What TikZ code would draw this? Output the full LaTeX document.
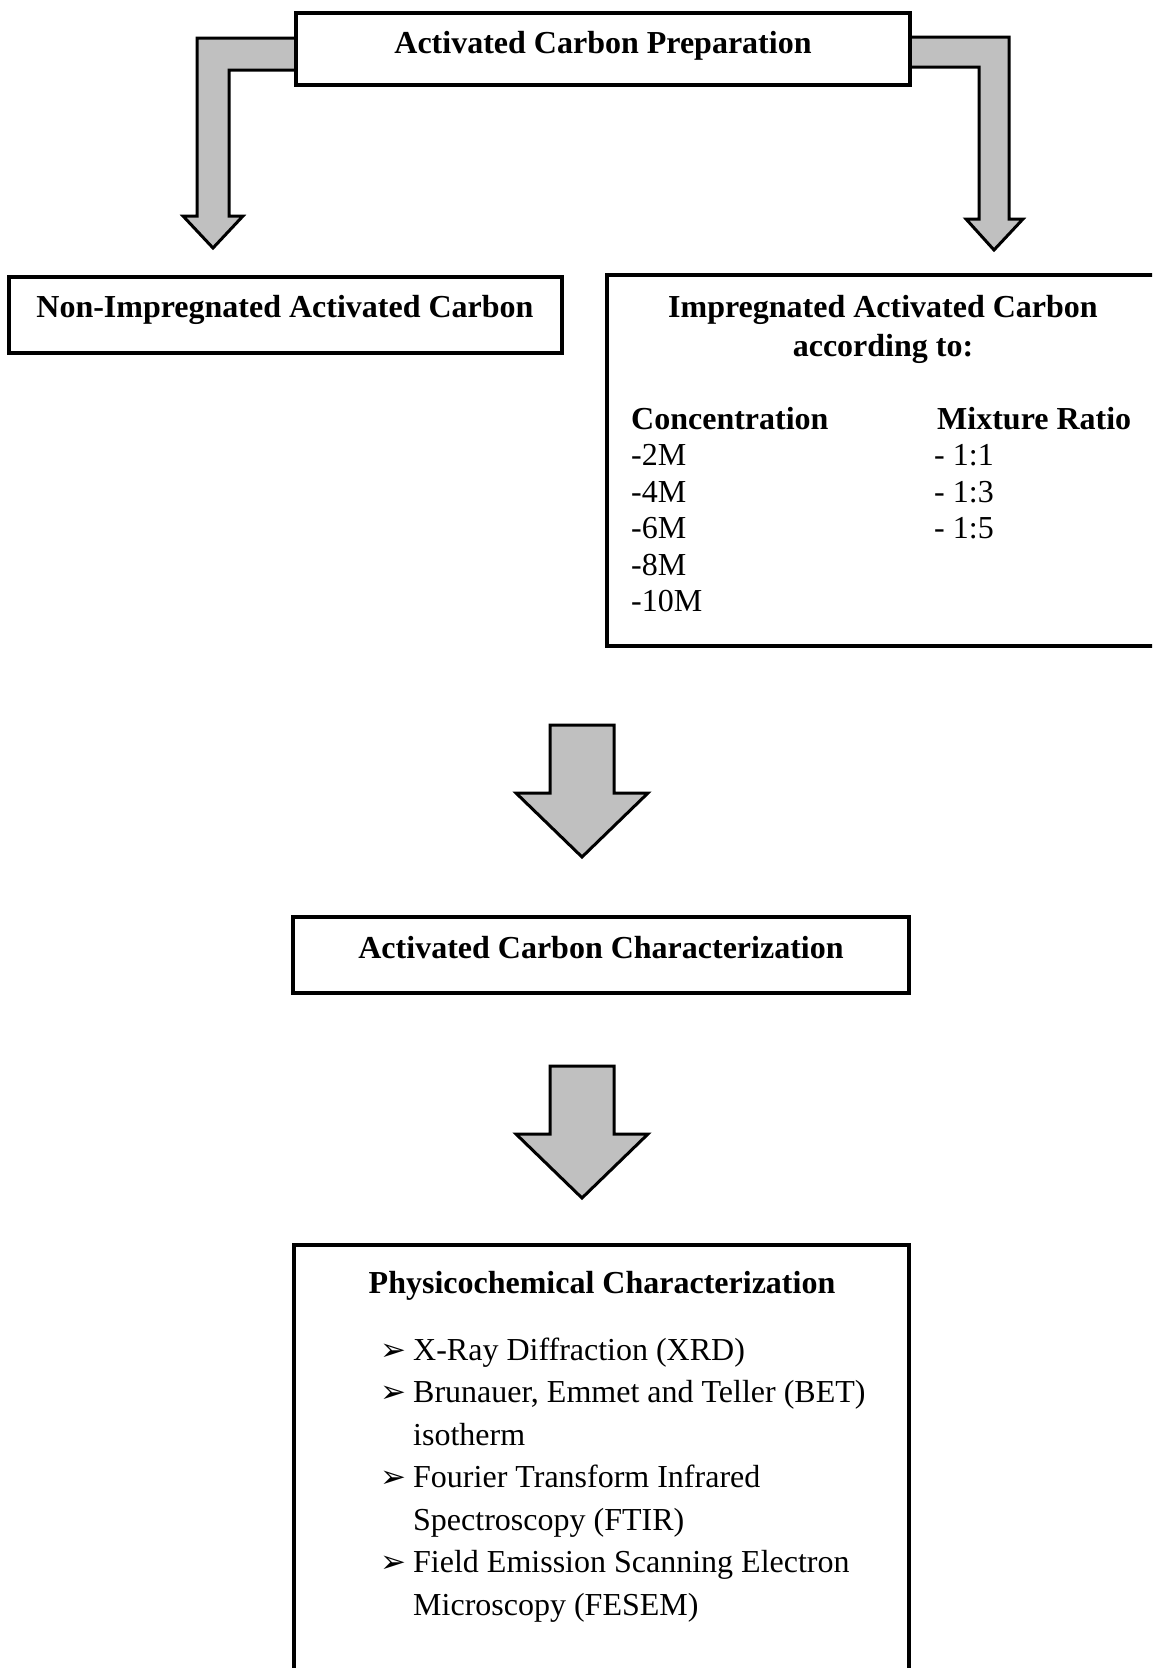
\documentclass[tikz,border=0pt]{standalone}
\usepackage{fontspec}
\setmainfont{Liberation Serif}
\newfontfamily\symfont{DejaVu Sans}
\definecolor{arrowgray}{HTML}{C0C0C0}
\begin{document}
\begin{tikzpicture}[x=1pt,y=-1pt,
  box/.style={draw, line width=3.5pt, fill=white, inner sep=0pt, rectangle},
  arrowshape/.style={draw, line width=3pt, fill=arrowgray, line join=miter},
  tb/.style={font=\fontsize{32}{36}\selectfont\bfseries, anchor=base, inner sep=0pt},
  tr/.style={font=\fontsize{32}{36}\selectfont, anchor=base west, inner sep=0pt},
  bul/.style={font=\symfont\fontsize{31}{34}\selectfont, anchor=base west, inner sep=0pt}]
\useasboundingbox (0,0) rectangle (1152,1668);
\clip (0,0) rectangle (1152,1668);

% bent arrows from the top box
\path[arrowshape] (300,38) -- (197,38) -- (197,216) -- (183,216) -- (213,248)
  -- (243,216) -- (229,216) -- (229,70) -- (300,70);
\path[arrowshape] (905,37) -- (1009,37) -- (1009,219) -- (1023,219) -- (994,250)
  -- (966,219) -- (979,219) -- (979,67) -- (905,67);

% straight down arrows
\path[arrowshape] (550,725) -- (614,725) -- (614,793) -- (648,793) -- (582,857)
  -- (516,793) -- (550,793) -- cycle;
\path[arrowshape] (550,1066) -- (614,1066) -- (614,1134) -- (648,1134) -- (582,1198)
  -- (516,1134) -- (550,1134) -- cycle;

% boxes
\node[box, minimum width=614pt, minimum height=72pt] (prep) at (603,49) {};
\node[box, minimum width=553pt, minimum height=76pt] (nonimp) at (285.5,315) {};
\node[box, minimum width=563pt, minimum height=371pt] (imp) at (888.5,460.5) {};
\node[box, minimum width=616pt, minimum height=76pt] (char) at (601,955) {};
\node[box, minimum width=615pt, minimum height=445pt] (phys) at (601.5,1467.5) {};

% texts
\node[tb] (tprep) at (603,53) {Activated Carbon Preparation};
\node[tb] (tnon) at (285,317) {Non-Impregnated Activated Carbon};
\node[tb] (timp1) at (883,317) {Impregnated Activated Carbon};
\node[tb] (timp2) at (883,356) {according to:};
\node[tb, anchor=base west] (tconc) at (631,429) {Concentration};
\node[tb, anchor=base west] (tmix) at (937,429) {Mixture Ratio};
\node[tr] (c1) at (631,465.5) {-2M};
\node[tr] (c2) at (631,502) {-4M};
\node[tr] (c3) at (631,538.5) {-6M};
\node[tr] (c4) at (631,575) {-8M};
\node[tr] (c5) at (631,611.5) {-10M};
\node[tr] (m1) at (934,465.5) {- 1:1};
\node[tr] (m2) at (934,502) {- 1:3};
\node[tr] (m3) at (934,538.5) {- 1:5};
\node[tb] (tchar) at (601,958) {Activated Carbon Characterization};
\node[tb] (tphys) at (602,1293) {Physicochemical Characterization};

\node[bul] (b1) at (380,1360) {➢};
\node[bul] (b2) at (380,1402.5) {➢};
\node[bul] (b3) at (380,1487.5) {➢};
\node[bul] (b4) at (380,1572.5) {➢};
\node[tr] (l1) at (413,1360) {X-Ray Diffraction (XRD)};
\node[tr] (l2) at (413,1402.5) {Brunauer, Emmet and Teller (BET)};
\node[tr] (l3) at (413,1445) {isotherm};
\node[tr] (l4) at (413,1487.5) {Fourier Transform Infrared};
\node[tr] (l5) at (413,1530) {Spectroscopy (FTIR)};
\node[tr] (l6) at (413,1572.5) {Field Emission Scanning Electron};
\node[tr] (l7) at (413,1615) {Microscopy (FESEM)};
\end{tikzpicture}
\end{document}
